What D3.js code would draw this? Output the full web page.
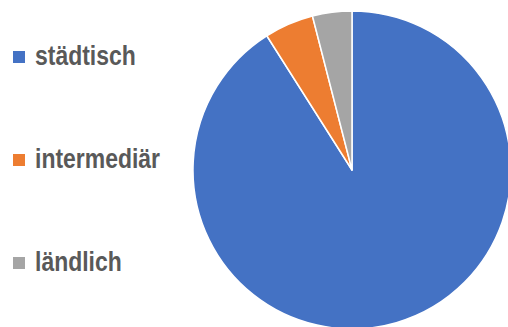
<!DOCTYPE html>
<html>
<head>
<meta charset="utf-8">
<script src="https://cdn.jsdelivr.net/npm/d3@7"></script>
<style>
  body { margin: 0; background: #fff; }
  svg { display: block; }
</style>
</head>
<body>
<svg id="chart" width="508" height="327"></svg>
<script>
// categories and their shares (percent)
var categories = ["städtisch", "intermediär", "ländlich"];
var values = [91, 5, 4];
var colors = ["#4472C4", "#ED7D31", "#A5A5A5"];

var data = categories.map(function(c, i) {
    return { name: c, value: values[i], color: colors[i] };
});

var svg = d3.select("#chart");

var radius = 159;
var cx = 352, cy = 170;

var pie = d3.pie()
    .value(function(d) { return d.value; })
    .sort(null);

var arc = d3.arc()
    .innerRadius(0)
    .outerRadius(radius);

var g = svg.append("g")
    .attr("transform", "translate(" + cx + "," + cy + ")");

g.selectAll("path")
    .data(pie(data))
    .enter().append("path")
    .attr("d", arc)
    .attr("fill", function(d) { return d.data.color; })
    .attr("stroke", "#fff")
    .attr("stroke-width", 1.5)
    .attr("stroke-linejoin", "round");

// legend on the left, stacked vertically
var legendY = d3.scalePoint()
    .domain(categories)
    .range([65, 271]);

var legend = svg.selectAll(".legend")
    .data(data)
    .enter().append("g")
    .attr("class", "legend")
    .attr("transform", function(d) { return "translate(0," + legendY(d.name) + ")"; });

legend.append("rect")
    .attr("x", 13)
    .attr("y", -14)
    .attr("width", 12)
    .attr("height", 12)
    .attr("fill", function(d) { return d.color; });

// no narrow font installed, so squeeze the bold sans horizontally
legend.append("text")
    .attr("transform", "translate(35,0) scale(0.82,1)")
    .attr("font-family", "'Liberation Sans', Arial, sans-serif")
    .attr("font-weight", "bold")
    .attr("font-size", "28px")
    .attr("fill", "#595959")
    .text(function(d) { return d.name; });
</script>
</body>
</html>
